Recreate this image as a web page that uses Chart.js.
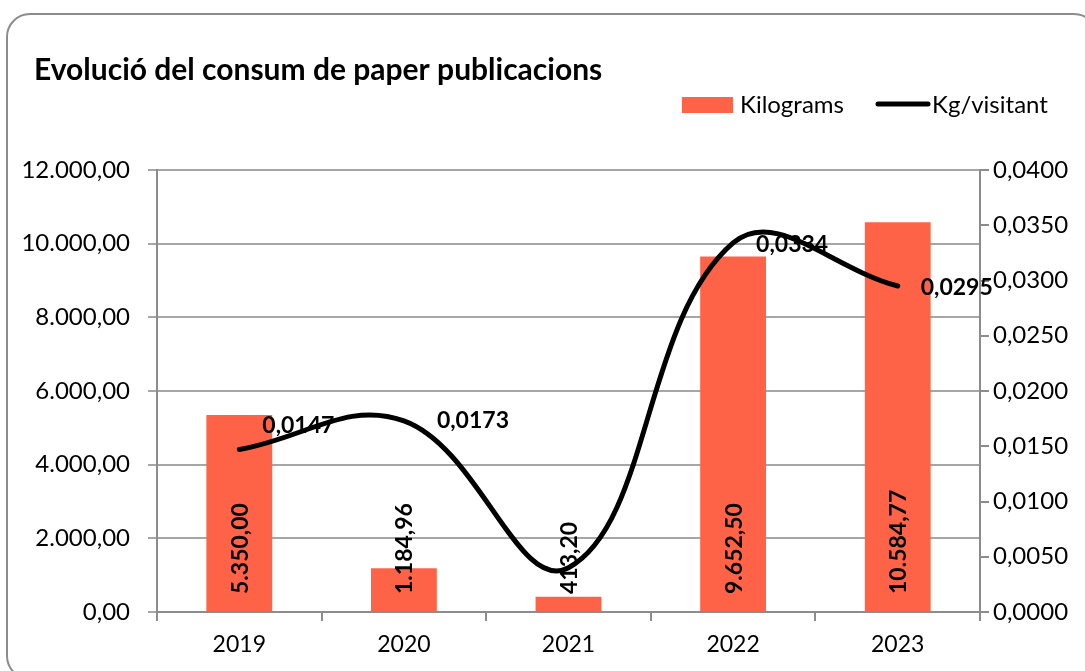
<!DOCTYPE html>
<html>
<head>
<meta charset="utf-8">
<script src="https://cdn.jsdelivr.net/npm/chart.js@4"></script>
<style>
html, body { margin: 0; padding: 0; background: #fff; overflow: hidden; }
#wrap { position: relative; width: 1085px; height: 671px; }
#frame { position: absolute; left: 6px; top: 13px; width: 1092px; height: 667px; border: 2px solid #8c8c8c; border-radius: 24px; box-sizing: border-box; pointer-events: none; }
</style>
</head>
<body>
<div id="wrap">
  <canvas id="chart" width="1085" height="671"></canvas>
  <div id="frame"></div>
</div>
<script>
const years = ['2019', '2020', '2021', '2022', '2023'];
const kilograms = [5350.00, 1184.96, 413.20, 9652.50, 10584.77];
const kgPerVisitor = [0.0147, 0.0173, 0.0040, 0.0334, 0.0295];
// label nudges for the line values (2021 label is not shown in the original)
const lineLabelOffsets = [[23, -24], [33, 0], null, [23, 2], [23, 2]];

const FONT = 'Lato';
const BAR_COLOR = '#FF6347';
const AXIS_COLOR = '#8c8c8c';

// Catalan style number: 12.000,00
function fmt(v, dec) {
    const parts = v.toFixed(dec).split('.');
    parts[0] = parts[0].replace(/\B(?=(\d{3})+(?!\d))/g, '.');
    return parts.join(',');
}

const labelPlugin = {
    id: 'valueLabels',
    beforeDatasetDraw(chart, args) {
        if (args.index !== 1) return;
        const ctx = chart.ctx;
        const yScale = chart.scales.y;
        ctx.save();
        ctx.fillStyle = '#000';

        // bar values, rotated, sitting near the base
        ctx.font = 'bold 23px ' + FONT;
        chart.getDatasetMeta(0).data.forEach((bar, i) => {
            ctx.save();
            ctx.translate(bar.x, yScale.getPixelForValue(0) - 18);
            ctx.rotate(-Math.PI / 2);
            ctx.textAlign = 'left';
            ctx.textBaseline = 'middle';
            ctx.fillText(fmt(kilograms[i], 2), 0, 1);
            ctx.restore();
        });

        // line values
        ctx.font = 'bold 23px ' + FONT;
        ctx.textAlign = 'left';
        ctx.textBaseline = 'middle';
        chart.getDatasetMeta(1).data.forEach((pt, i) => {
            const off = lineLabelOffsets[i];
            if (!off) return;
            ctx.fillText(fmt(kgPerVisitor[i], 4), pt.x + off[0], pt.y + off[1]);
        });
        ctx.restore();
    },
    afterDraw(chart) {
        const ctx = chart.ctx;
        ctx.save();
        ctx.fillStyle = '#000';
        ctx.textBaseline = 'middle';
        ctx.textAlign = 'left';

        // title
        ctx.font = 'bold 30px ' + FONT;
        ctx.fillText('Evolució del consum de paper publicacions', 34, 70);

        // legend
        ctx.font = '24px ' + FONT;
        ctx.fillStyle = BAR_COLOR;
        ctx.fillRect(682, 97, 51, 16);
        ctx.fillStyle = '#000';
        ctx.fillText('Kilograms', 740, 105);
        ctx.strokeStyle = '#000';
        ctx.lineWidth = 5;
        ctx.lineCap = 'round';
        ctx.beginPath();
        ctx.moveTo(878, 104);
        ctx.lineTo(928, 104);
        ctx.stroke();
        ctx.fillText('Kg/visitant', 932, 105);
        ctx.restore();
    }
};

function build() {
    const tickFont = { family: FONT, size: 24 };
    new Chart(document.getElementById('chart'), {
        data: {
            labels: years,
            datasets: [
                {
                    type: 'bar',
                    label: 'Kilograms',
                    data: kilograms,
                    backgroundColor: BAR_COLOR,
                    yAxisID: 'y',
                    barPercentage: 0.4,
                    categoryPercentage: 1,
                    order: 2
                },
                {
                    type: 'line',
                    label: 'Kg/visitant',
                    data: kgPerVisitor,
                    borderColor: '#000',
                    borderWidth: 5,
                    borderCapStyle: 'round',
                    pointRadius: 0,
                    tension: 0.4,
                    yAxisID: 'y1',
                    order: 1
                }
            ]
        },
        options: {
            responsive: false,
            animation: false,
            layout: { padding: { top: 170, left: 0, right: 0, bottom: 0 } },
            plugins: {
                legend: { display: false },
                title: { display: false },
                tooltip: { enabled: false }
            },
            scales: {
                x: {
                    grid: { drawOnChartArea: false, tickLength: 9, color: AXIS_COLOR, lineWidth: 2, offset: true },
                    border: { color: AXIS_COLOR, width: 2 },
                    ticks: { padding: 10, font: { family: FONT, size: 23 }, color: '#000' },
                    afterFit(s) { s.height = 59; }
                },
                y: {
                    position: 'left',
                    min: 0,
                    max: 12000,
                    ticks: { stepSize: 2000, padding: 18, font: tickFont, color: '#000', callback: v => fmt(v, 2) },
                    grid: { color: '#a6a6a6', lineWidth: 2, tickLength: 9 },
                    border: { color: AXIS_COLOR, width: 2 },
                    afterFit(s) { s.width = 157; }
                },
                y1: {
                    position: 'right',
                    min: 0,
                    max: 0.04,
                    ticks: { stepSize: 0.005, padding: 4, font: tickFont, color: '#000', callback: v => fmt(v, 4) },
                    grid: { drawOnChartArea: false, color: AXIS_COLOR, lineWidth: 2, tickLength: 9 },
                    border: { color: AXIS_COLOR, width: 2 },
                    afterFit(s) { s.width = 105; }
                }
            }
        },
        plugins: [labelPlugin]
    });
}

document.fonts.load('24px ' + FONT).then(() => document.fonts.load('bold 24px ' + FONT)).then(build, build);
</script>
</body>
</html>
